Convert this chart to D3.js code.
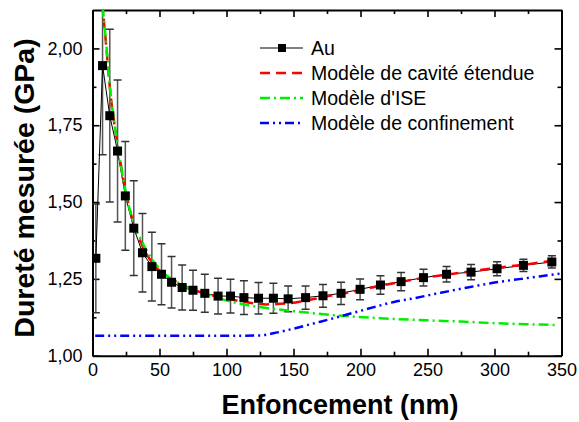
<!DOCTYPE html>
<html>
<head>
<meta charset="utf-8">
<script src="https://cdn.jsdelivr.net/npm/d3@7"></script>
<style>
  body { margin: 0; background: #fff; }
  svg { display: block; font-family: "Liberation Sans", Arial, sans-serif; }
</style>
</head>
<body>
<svg></svg>
<script>
// Measured data (Au)
var depth = [2.5, 7.5, 12.9, 18.7, 24.5, 30.8, 37.3, 44.3, 51.5, 59, 66.9, 75, 83.8, 93.7, 103, 113,
  123.9, 135, 146, 159, 172, 185.5, 199.7, 214.9, 230.3, 247, 264.2, 282.5, 301.9, 321.6, 342.8];
var hardness = [1.317, 1.944, 1.781, 1.666, 1.52, 1.415, 1.335, 1.29, 1.265, 1.239, 1.222, 1.213, 1.203,
  1.194, 1.194, 1.189, 1.187, 1.187, 1.185, 1.189, 1.195, 1.203, 1.216, 1.23, 1.241, 1.254, 1.265,
  1.272, 1.283, 1.294, 1.305];
var hardnessErr = [0.177, 0.29, 0.281, 0.231, 0.177, 0.154, 0.128, 0.112, 0.099, 0.084, 0.073, 0.065,
  0.062, 0.058, 0.055, 0.055, 0.051, 0.049, 0.042, 0.038, 0.037, 0.036, 0.034, 0.030, 0.030, 0.027,
  0.025, 0.025, 0.023, 0.020, 0.020];

// Model curves
var cavityX = [6, 10, 13, 19, 25, 30, 37, 45, 55, 65, 75, 90, 100, 115, 130, 145, 160, 175, 190, 200,
  225, 250, 275, 300, 325, 345];
var cavityY = [2.2, 2.02, 1.87, 1.68, 1.53, 1.44, 1.36, 1.30, 1.26, 1.235, 1.215, 1.196, 1.186, 1.174,
  1.167, 1.17, 1.18, 1.193, 1.205, 1.214, 1.236, 1.255, 1.27, 1.285, 1.298, 1.31];

var iseX = [6, 10, 13, 19, 24, 30, 37, 45, 55, 65, 75, 85, 100, 115, 130, 150, 180, 215, 250, 275, 300, 345];
var iseY = [2.2, 2.027, 1.875, 1.68, 1.55, 1.44, 1.37, 1.31, 1.262, 1.235, 1.215, 1.2, 1.18, 1.165,
  1.155, 1.145, 1.132, 1.122, 1.115, 1.111, 1.106, 1.10];

var confX = [2, 50, 100, 125, 135, 150, 165, 180, 195, 210, 225, 240, 260, 280, 300, 320, 350];
var confY = [1.065, 1.065, 1.065, 1.066, 1.073, 1.088, 1.105, 1.122, 1.14, 1.158, 1.175, 1.187, 1.205,
  1.222, 1.238, 1.25, 1.268];

// Axis ticks
var xTicks = [0, 50, 100, 150, 200, 250, 300, 350];
var xMinor = [25, 75, 125, 175, 225, 275, 325];
var yTicks = [1.00, 1.25, 1.50, 1.75, 2.00];
var yMinor = [1.125, 1.375, 1.625, 1.875];

var legendLabels = ["Au", "Modèle de cavité étendue", "Modèle d'ISE", "Modèle de confinement"];

var width = 579;
var height = 422;
var plotLeft = 92.5, plotRight = 561.5, plotTop = 10, plotBottom = 355.7;

var svg = d3.select("svg")
  .attr("width", width)
  .attr("height", height);

var x = d3.scaleLinear().domain([0, 350]).range([plotLeft, plotRight]);
var y = d3.scaleLinear().domain([1, 2.125]).range([plotBottom, plotTop]);

svg.append("clipPath").attr("id", "plot")
  .append("rect")
  .attr("x", plotLeft).attr("y", plotTop)
  .attr("width", plotRight - plotLeft).attr("height", plotBottom - plotTop);

var fmt = function(d) { return d3.format(".2f")(d).replace(".", ","); };

// Axes, ticks pointing inward
function drawAxis(axis, tx, ty, minorVals, minorAxis) {
  var g = svg.append("g").attr("transform", "translate(" + tx + "," + ty + ")").call(axis);
  g.append("g").call(minorAxis.tickValues(minorVals).tickFormat("").tickSizeOuter(0))
    .select(".domain").remove();
  g.selectAll("line").attr("stroke", "#000").attr("stroke-width", 1.6);
  g.selectAll(".domain").attr("stroke", "#000").attr("stroke-width", 2);
  return g;
}

var xb = drawAxis(d3.axisBottom(x).tickValues(xTicks).tickSize(-7).tickSizeOuter(0).tickPadding(8),
  0, plotBottom, xMinor, d3.axisBottom(x).tickSize(-4));
xb.selectAll("text").attr("font-size", 18).attr("fill", "#000");

drawAxis(d3.axisTop(x).tickValues(xTicks).tickSize(-7).tickSizeOuter(0).tickFormat(""),
  0, plotTop, xMinor, d3.axisTop(x).tickSize(-4));

var yl = drawAxis(d3.axisLeft(y).tickValues(yTicks).tickSize(-7).tickSizeOuter(0).tickPadding(10).tickFormat(fmt),
  plotLeft, 0, yMinor, d3.axisLeft(y).tickSize(-4));
yl.selectAll("text").attr("font-size", 18).attr("fill", "#000");

drawAxis(d3.axisRight(y).tickValues(yTicks).tickSize(-7).tickSizeOuter(0).tickFormat(""),
  plotRight, 0, yMinor, d3.axisRight(y).tickSize(-4));

// Axis titles
svg.append("text")
  .attr("x", 340).attr("y", 414)
  .attr("text-anchor", "middle")
  .attr("font-size", 27).attr("font-weight", "bold")
  .text("Enfoncement (nm)");

svg.append("text")
  .attr("transform", "translate(34,188) rotate(-90)")
  .attr("text-anchor", "middle")
  .attr("font-size", 28.5).attr("font-weight", "bold")
  .text("Dureté mesurée (GPa)");

var plot = svg.append("g").attr("clip-path", "url(#plot)");

var curve = d3.line()
  .x(function(d) { return x(d[0]); })
  .y(function(d) { return y(d[1]); })
  .curve(d3.curveMonotoneX);

// Error bars
var pts = d3.zip(depth, hardness, hardnessErr);
var eb = plot.selectAll(".err").data(pts).enter().append("g");
eb.append("line")
  .attr("x1", function(d) { return x(d[0]); }).attr("x2", function(d) { return x(d[0]); })
  .attr("y1", function(d) { return y(d[1] + d[2]); }).attr("y2", function(d) { return y(d[1] - d[2]); })
  .attr("stroke", "#555").attr("stroke-width", 1.5);
[1, -1].forEach(function(s) {
  eb.append("line")
    .attr("x1", function(d) { return x(d[0]) - 4; }).attr("x2", function(d) { return x(d[0]) + 4; })
    .attr("y1", function(d) { return y(d[1] + s * d[2]); }).attr("y2", function(d) { return y(d[1] + s * d[2]); })
    .attr("stroke", "#333").attr("stroke-width", 1.5);
});

// Measured line
plot.append("path")
  .attr("d", d3.line().x(function(d) { return x(d[0]); }).y(function(d) { return y(d[1]); })(pts))
  .attr("fill", "none").attr("stroke", "#000").attr("stroke-width", 1);

// Model curves
var models = [
  { xs: cavityX, ys: cavityY, color: "#ff0000", dash: "10,6" },
  { xs: iseX, ys: iseY, color: "#00ee00", dash: "10,4,2,4" },
  { xs: confX, ys: confY, color: "#0000ff", dash: "9,4,2,4,2,4" }
];
models.forEach(function(m) {
  plot.append("path")
    .attr("d", curve(d3.zip(m.xs, m.ys)))
    .attr("fill", "none")
    .attr("stroke", m.color)
    .attr("stroke-width", 2.5)
    .attr("stroke-dasharray", m.dash);
});

// Markers
plot.selectAll(".pt").data(pts).enter().append("rect")
  .attr("x", function(d) { return x(d[0]) - 4.5; })
  .attr("y", function(d) { return y(d[1]) - 4.5; })
  .attr("width", 9).attr("height", 9)
  .attr("fill", "#000");

// Legend
var legend = svg.append("g");
var rowY = [48, 73, 98, 123];
legendLabels.forEach(function(label, i) {
  var g = legend.append("g").attr("transform", "translate(0," + rowY[i] + ")");
  if (i === 0) {
    g.append("line").attr("x1", 260).attr("x2", 303).attr("stroke", "#000").attr("stroke-width", 1);
    g.append("rect").attr("x", 278).attr("y", -4).attr("width", 8).attr("height", 8).attr("fill", "#000");
  } else {
    var m = models[i - 1];
    g.append("line").attr("x1", 260).attr("x2", 303)
      .attr("stroke", m.color).attr("stroke-width", 2.5).attr("stroke-dasharray", m.dash);
  }
  g.append("text").attr("x", 311).attr("y", 7)
    .attr("font-size", 19.5).attr("fill", "#000")
    .text(label);
});
</script>
</body>
</html>
